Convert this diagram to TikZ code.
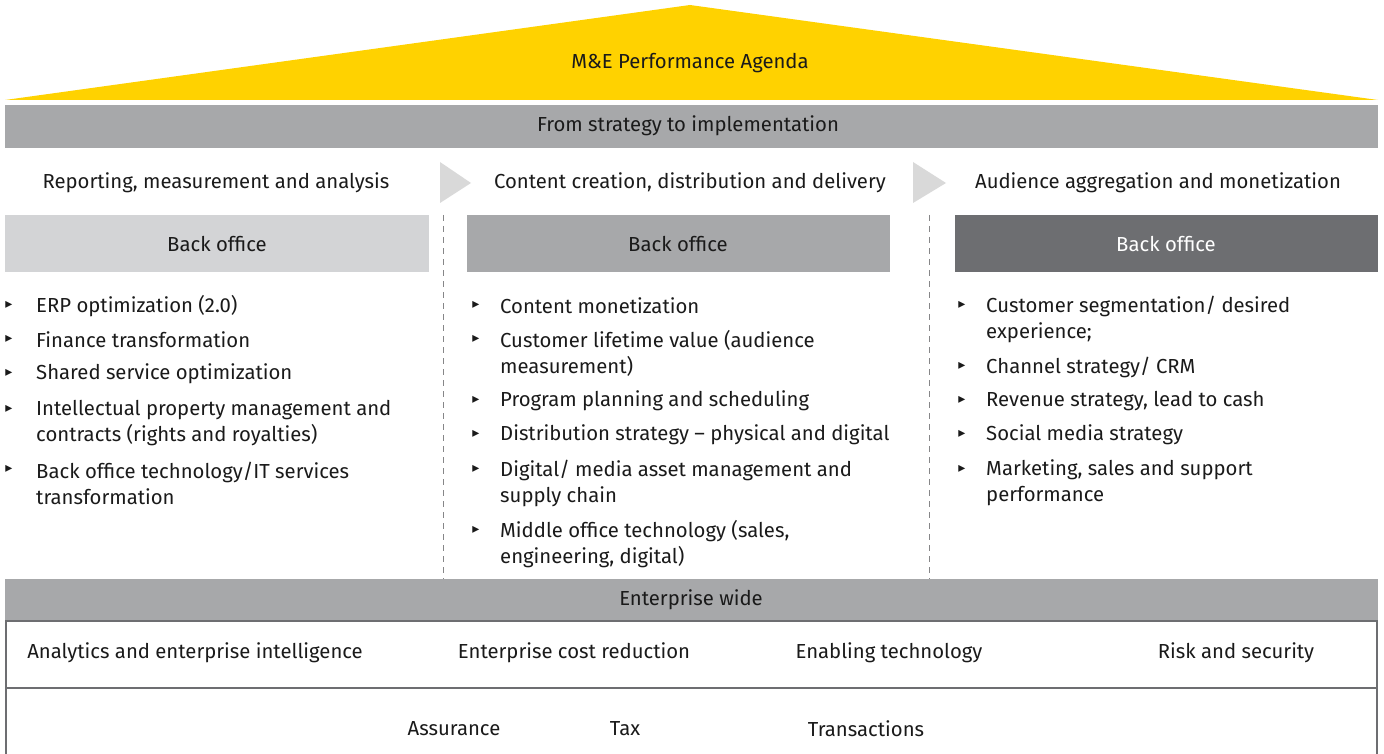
\documentclass[tikz,border=0pt]{standalone}
\usepackage{fontspec}
\setmainfont{Fira Sans}
\newfontfamily\symfont{DejaVu Sans}
\definecolor{eyyellow}{HTML}{FFD200}
\definecolor{band}{HTML}{A7A8AA}
\definecolor{boxA}{HTML}{D3D4D6}
\definecolor{boxB}{HTML}{A7A8AA}
\definecolor{boxC}{HTML}{6D6E71}
\definecolor{chev}{HTML}{D9D9D9}
\definecolor{rule}{HTML}{6D6E71}
\definecolor{txt}{HTML}{1A1A1A}
\newcommand{\mybul}{{\symfont\fontsize{14}{14}\selectfont ▸}}
\begin{document}
\begin{tikzpicture}[x=1pt,y=-1pt,
  every node/.style={font=\fontsize{20.3}{26}\selectfont, text=txt, inner sep=0pt},
  lbl/.style={anchor=center},
  item/.style={anchor=west, align=left},
  bul/.style={anchor=center},
  bo/.style={fill=#1, draw=none}]
\useasboundingbox (0,0) rectangle (1384,754);
% roof
\fill[eyyellow] (5,100) -- (690,5) -- (1378,100) -- cycle;
\node[lbl] (agenda) at (690,63) {M\&E Performance Agenda};
% band
\fill[band] (5,105) rectangle (1378,148);
\node[lbl] (strat) at (688,126) {From strategy to implementation};
% column headers
\node[lbl] (h1) at (216,183) {Reporting, measurement and analysis};
\node[lbl] (h2) at (690,183) {Content creation, distribution and delivery};
\node[lbl] (h3) at (1158,183) {Audience aggregation and monetization};
\fill[chev] (440,162) -- (471,183) -- (440,203) -- cycle;
\fill[chev] (913,162) -- (946,183) -- (913,203) -- cycle;
% dashed separators
\draw[band!80!black, dashed, dash pattern=on 6pt off 5pt, line width=1pt] (443,215) -- (443,579);
\draw[band!80!black, dashed, dash pattern=on 6pt off 5pt, line width=1pt] (929,215) -- (929,579);
% back office boxes
\fill[boxA] (5,215) rectangle (429,272);
\fill[boxB] (467,215) rectangle (890,272);
\fill[boxC] (955,215) rectangle (1378,272);
\node[lbl] (b1) at (217,244.5) {Back office};
\node[lbl] (b2) at (678,244.5) {Back office};
\node[lbl, text=white] (b3) at (1166,244.5) {Back office};
% column 1 bullets
\foreach \y in {304,338,372,408,468} \node[bul] at (9,\y+1) {\mybul};
\node[item] (c1a) at (36,306) {ERP optimization (2.0)};
\node[item] (c1b) at (36,340) {Finance transformation};
\node[item] (c1c) at (36,374) {Shared service optimization};
\node[item] (c1d) at (36,423) {Intellectual property management and\\contracts (rights and royalties)};
\node[item] (c1e) at (36,483) {Back office technology/IT services\\transformation};
% column 2 bullets
\foreach \y in {304,338,399,433,468,529} \node[bul] at (476,\y+1) {\mybul};
\node[item] (c2a) at (500,306) {Content monetization};
\node[item] (c2b) at (500,353) {Customer lifetime value (audience\\measurement)};
\node[item] (c2c) at (500,401) {Program planning and scheduling};
\node[item] (c2d) at (500,435) {Distribution strategy -- physical and digital};
\node[item] (c2e) at (500,483) {Digital/ media asset management and\\supply chain};
\node[item] (c2f) at (500,544) {Middle office technology (sales,\\engineering, digital)};
% column 3 bullets
\foreach \y in {304,365,399,433,468} \node[bul] at (962,\y+1) {\mybul};
\node[item] (c3a) at (986,319) {Customer segmentation/ desired\\experience;};
\node[item] (c3b) at (986,367) {Channel strategy/ CRM};
\node[item] (c3c) at (986,401) {Revenue strategy, lead to cash};
\node[item] (c3d) at (986,435) {Social media strategy};
\node[item] (c3e) at (986,483) {Marketing, sales and support\\performance};
% enterprise wide
\fill[band] (5,579) rectangle (1378,621);
\node[lbl] (ent) at (691,600) {Enterprise wide};
\draw[rule, line width=2pt] (6,621) rectangle (1377,756);
\draw[rule, line width=2pt] (6,688) -- (1377,688);
\node[lbl] (e1) at (195,653) {Analytics and enterprise intelligence};
\node[lbl] (e2) at (574,653) {Enterprise cost reduction};
\node[lbl] (e3) at (889,653) {Enabling technology};
\node[lbl] (e4) at (1236,653) {Risk and security};
\node[lbl] (s1) at (454,729) {Assurance};
\node[lbl] (s2) at (625,729) {Tax};
\node[lbl] (s3) at (866,729) {Transactions};
\end{tikzpicture}
\end{document}
